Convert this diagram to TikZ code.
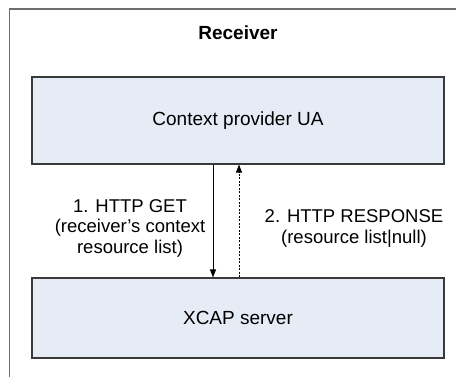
\documentclass[tikz,border=0pt]{standalone}
\usepackage{fontspec}
\setmainfont{Liberation Sans}
\usetikzlibrary{arrows.meta}
\definecolor{boxfill}{HTML}{E6ECF6}
\definecolor{boxline}{HTML}{3A3A3A}
\definecolor{frameline}{HTML}{6E6E6E}
\tikzset{
  compbox/.style={draw=boxline, line width=1.1pt, fill=boxfill, minimum width=412pt, inner sep=0pt, font=\fontsize{19}{21}\selectfont},
  lbl/.style={align=center, inner sep=0pt, font=\fontsize{18.5}{20.5}\selectfont},
  msg/.style={line width=0.9pt, -{Triangle[length=8pt,width=6pt]}},
  reply/.style={line width=0.7pt, dash pattern=on 2pt off 1.5pt, -{Triangle[length=8pt,width=6pt]}}
}
\begin{document}
\begin{tikzpicture}[x=1pt,y=-1pt]
\useasboundingbox (0,0) rectangle (456,377);
\draw[frameline, line width=1.4pt] (9.5,377) -- (9.5,9) -- (456,9);
\node[font=\bfseries\fontsize{19}{21}\selectfont] (title) at (238,33) {Receiver};
\node[compbox, minimum height=87pt] (ctx) at (238,120.5) {Context provider UA};
\node[compbox, minimum height=80pt] (xcap) at (238,318) {XCAP server};
\coordinate (ax) at (213,200);
\coordinate (bx) at (239,200);
\draw[msg] (ctx.south -| ax) -- (xcap.north -| ax);
\draw[reply] (xcap.north -| bx) -- (ctx.south -| bx);
\node[lbl] (getl) at (130,228) {1. HTTP GET\\(receiver’s context\\resource list)};
\node[lbl] (respl) at (354,228.5) {2. HTTP RESPONSE\\(resource list|null)};
\end{tikzpicture}
\end{document}
